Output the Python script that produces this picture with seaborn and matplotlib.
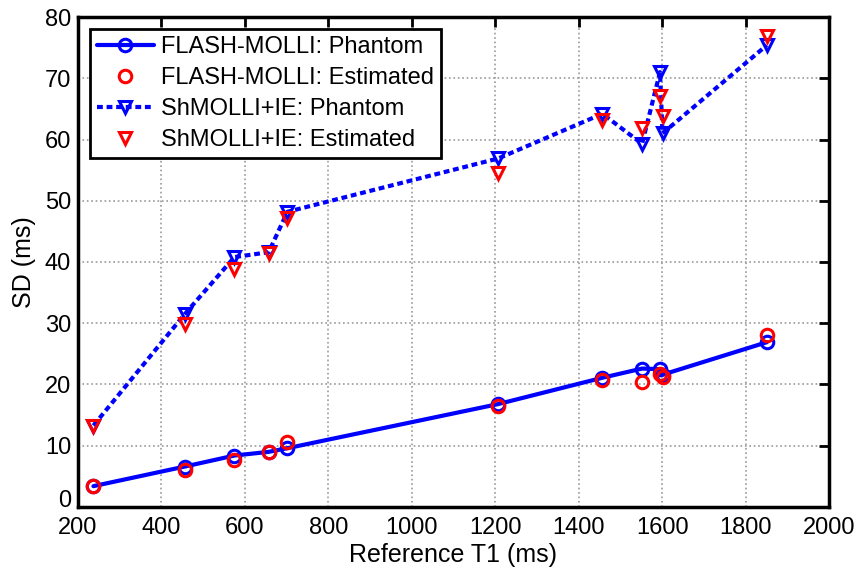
import numpy as np
import pandas as pd
import matplotlib
matplotlib.use("Agg")
import matplotlib.pyplot as plt
import matplotlib.transforms as mtransforms
import seaborn as sns

# values
t1 = [237, 456, 575, 657, 702, 1207, 1457, 1552, 1595, 1601, 1851]
flash_phantom = [3.4, 6.6, 8.4, 9.0, 9.6, 16.8, 21.1, 22.6, 22.5, 21.6, 26.9]
flash_est = [3.4, 6.1, 7.7, 8.9, 10.6, 16.5, 20.8, 20.4, 21.7, 21.3, 28.1]
shmolli_phantom = [13.3, 31.5, 40.8, 41.6, 48.2, 56.9, 64.2, 59.3, 71.0, 61.0, 75.4]
shmolli_est = [13.2, 29.8, 38.9, 41.4, 47.2, 54.6, 63.2, 61.9, 67.1, 63.9, 76.9]

df = pd.DataFrame({"t1": t1, "fp": flash_phantom, "fe": flash_est,
                   "sp": shmolli_phantom, "se": shmolli_est})

sns.set_style("white")
plt.rcParams["font.family"] = ["Liberation Sans", "DejaVu Sans"]
plt.rcParams["text.color"] = "black"
plt.rcParams["axes.labelcolor"] = "black"
plt.rcParams["xtick.color"] = "black"
plt.rcParams["ytick.color"] = "black"

fig, ax = plt.subplots(figsize=(8.61, 5.75), dpi=100)
fig.subplots_adjust(left=0.0906, right=0.9628, bottom=0.1183, top=0.9704)

common = dict(markerfacecolor="none", markeredgewidth=2.2, markersize=9, sort=False)

sns.lineplot(data=df, x="t1", y="fp", ax=ax, color="blue", linewidth=3,
             marker="o", markeredgecolor="blue",
             label="FLASH-MOLLI: Phantom", **common)
sns.lineplot(data=df, x="t1", y="fe", ax=ax, color="red", linestyle="none",
             marker="o", markeredgecolor="red",
             label="FLASH-MOLLI: Estimated", **common)
sns.lineplot(data=df, x="t1", y="sp", ax=ax, color="blue", linewidth=3,
             linestyle=(0, (1.4, 0.9)), marker="v", markeredgecolor="blue",
             label="ShMOLLI+IE: Phantom", **common)
sns.lineplot(data=df, x="t1", y="se", ax=ax, color="red", linestyle="none",
             marker="v", markeredgecolor="red",
             label="ShMOLLI+IE: Estimated", **common)

ax.set_xlim(200, 2000)
ax.set_ylim(0, 80)
ax.set_xticks(range(200, 2001, 200))
ax.set_yticks(range(0, 81, 10))
ax.set_xlabel("Reference T1 (ms)", fontsize=18, labelpad=3)
ax.set_ylabel("SD (ms)", fontsize=18, labelpad=6)
ax.tick_params(direction="in", top=True, right=True, length=7, width=2,
               labelsize=17)
ax.tick_params(axis="x", pad=7)
ax.tick_params(axis="y", pad=5)
ax.grid(True, linestyle=":", color="#999999", linewidth=1.2)
for sp in ax.spines.values():
    sp.set_linewidth(2.5)
    sp.set_color("black")

# lift the "0" a little so it sits above "200", as in the original
zero = ax.yaxis.get_major_ticks()[0].label1
zero.set_transform(zero.get_transform() +
                   mtransforms.ScaledTranslation(0, 6 / 72, fig.dpi_scale_trans))

leg = ax.legend(loc="upper left", fontsize=17, frameon=True, fancybox=False,
                edgecolor="black", framealpha=1, handlelength=2.4,
                borderaxespad=0.5, borderpad=0.3, labelspacing=0.38,
                handletextpad=0.3)
leg.get_frame().set_linewidth(2)

fig.savefig("out.png", dpi=100)
